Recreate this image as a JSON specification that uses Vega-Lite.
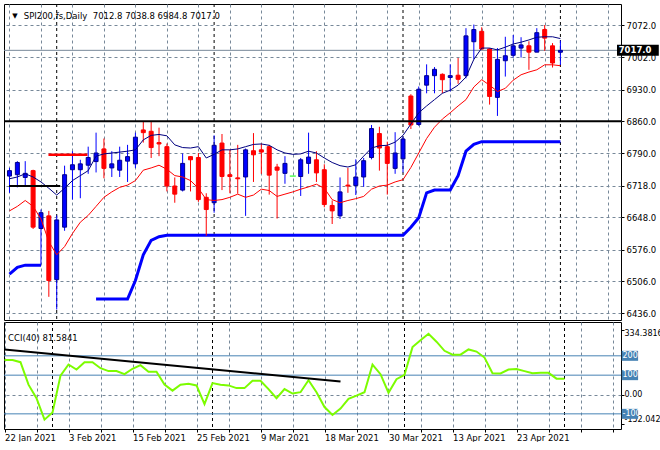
{
  "$schema": "https://vega.github.io/schema/vega-lite/v6.json",
  "background": "white",
  "padding": {"left": 3, "top": 3, "right": 0, "bottom": 0},
  "bounds": "flush",
  "spacing": 2,
  "config": {
    "view": {"stroke": "black", "strokeWidth": 1},
    "axis": {"labelFont": "DejaVu Sans", "labelFontSize": 8.5, "labelColor": "black", "tickColor": "black", "titleFont": "DejaVu Sans", "labelOverlap": false},
    "text": {"font": "DejaVu Sans", "fontSize": 8.5}
  },
  "datasets": {
    "bars": [
      {"i":0,"o":6739,"h":6757,"l":6702,"c":6751,"d":"up","fast":6733,"slow":6662,"cci":178},
      {"i":1,"o":6742,"h":6772,"l":6714,"c":6769,"d":"up","fast":6737,"slow":6672,"cci":178},
      {"i":2,"o":6736,"h":6772,"l":6717,"c":6745,"d":"up","fast":6744,"slow":6685,"cci":167},
      {"i":3,"o":6751,"h":6753,"l":6622,"c":6626,"d":"down","fast":6737,"slow":6672,"cci":51},
      {"i":4,"o":6623,"h":6665,"l":6544,"c":6658,"d":"up","fast":6726,"slow":6644,"cci":-19},
      {"i":5,"o":6651,"h":6662,"l":6472,"c":6508,"d":"down","fast":6712,"slow":6594,"cci":-130},
      {"i":6,"o":6510,"h":6652,"l":6444,"c":6642,"d":"up","fast":6697,"slow":6565,"cci":-93},
      {"i":7,"o":6626,"h":6762,"l":6618,"c":6742,"d":"up","fast":6712,"slow":6583,"cci":98},
      {"i":8,"o":6753,"h":6794,"l":6687,"c":6764,"d":"up","fast":6729,"slow":6612,"cci":155},
      {"i":9,"o":6753,"h":6775,"l":6690,"c":6766,"d":"up","fast":6740,"slow":6637,"cci":129},
      {"i":10,"o":6763,"h":6804,"l":6744,"c":6780,"d":"up","fast":6751,"slow":6652,"cci":167},
      {"i":11,"o":6771,"h":6835,"l":6747,"c":6790,"d":"up","fast":6783,"slow":6672,"cci":167},
      {"i":12,"o":6799,"h":6822,"l":6734,"c":6756,"d":"down","fast":6788,"slow":6692,"cci":136},
      {"i":13,"o":6757,"h":6794,"l":6737,"c":6766,"d":"up","fast":6790,"slow":6704,"cci":121},
      {"i":14,"o":6752,"h":6804,"l":6737,"c":6774,"d":"up","fast":6792,"slow":6714,"cci":121},
      {"i":15,"o":6772,"h":6808,"l":6726,"c":6782,"d":"up","fast":6794,"slow":6719,"cci":105},
      {"i":16,"o":6766,"h":6835,"l":6757,"c":6825,"d":"up","fast":6797,"slow":6729,"cci":133},
      {"i":17,"o":6841,"h":6859,"l":6813,"c":6835,"d":"down","fast":6819,"slow":6752,"cci":152},
      {"i":18,"o":6838,"h":6859,"l":6779,"c":6802,"d":"down","fast":6829,"slow":6757,"cci":118},
      {"i":19,"o":6813,"h":6846,"l":6783,"c":6810,"d":"down","fast":6831,"slow":6763,"cci":118},
      {"i":20,"o":6804,"h":6811,"l":6705,"c":6717,"d":"down","fast":6828,"slow":6754,"cci":51},
      {"i":21,"o":6717,"h":6736,"l":6680,"c":6699,"d":"down","fast":6808,"slow":6740,"cci":20},
      {"i":22,"o":6708,"h":6789,"l":6705,"c":6767,"d":"up","fast":6802,"slow":6737,"cci":51},
      {"i":23,"o":6782,"h":6783,"l":6705,"c":6775,"d":"down","fast":6801,"slow":6729,"cci":56},
      {"i":24,"o":6780,"h":6790,"l":6682,"c":6687,"d":"down","fast":6804,"slow":6712,"cci":47},
      {"i":25,"o":6692,"h":6701,"l":6607,"c":6665,"d":"down","fast":6779,"slow":6687,"cci":-50},
      {"i":26,"o":6680,"h":6829,"l":6658,"c":6807,"d":"up","fast":6787,"slow":6685,"cci":59},
      {"i":27,"o":6812,"h":6832,"l":6708,"c":6738,"d":"down","fast":6797,"slow":6687,"cci":50},
      {"i":28,"o":6742,"h":6797,"l":6701,"c":6738,"d":"down","fast":6797,"slow":6692,"cci":47},
      {"i":29,"o":6735,"h":6808,"l":6700,"c":6733,"d":"down","fast":6799,"slow":6699,"cci":33},
      {"i":30,"o":6737,"h":6800,"l":6651,"c":6797,"d":"up","fast":6804,"slow":6692,"cci":33},
      {"i":31,"o":6795,"h":6834,"l":6726,"c":6786,"d":"down","fast":6809,"slow":6697,"cci":71},
      {"i":32,"o":6797,"h":6811,"l":6744,"c":6792,"d":"down","fast":6810,"slow":6710,"cci":71},
      {"i":33,"o":6804,"h":6808,"l":6698,"c":6741,"d":"down","fast":6807,"slow":6707,"cci":28},
      {"i":34,"o":6759,"h":6766,"l":6645,"c":6752,"d":"down","fast":6797,"slow":6694,"cci":-19},
      {"i":35,"o":6745,"h":6783,"l":6722,"c":6767,"d":"up","fast":6790,"slow":6699,"cci":28},
      {"i":36,"o":6739,"h":6739,"l":6739,"c":6739,"d":"doji","fast":6787,"slow":6704,"cci":5},
      {"i":37,"o":6738,"h":6779,"l":6695,"c":6775,"d":"up","fast":6788,"slow":6710,"cci":12},
      {"i":38,"o":6767,"h":6835,"l":6744,"c":6781,"d":"up","fast":6794,"slow":6715,"cci":74},
      {"i":39,"o":6775,"h":6794,"l":6726,"c":6746,"d":"down","fast":6790,"slow":6721,"cci":12},
      {"i":40,"o":6753,"h":6765,"l":6670,"c":6676,"d":"down","fast":6779,"slow":6712,"cci":-65},
      {"i":41,"o":6674,"h":6685,"l":6633,"c":6662,"d":"down","fast":6769,"slow":6687,"cci":-106},
      {"i":42,"o":6651,"h":6736,"l":6644,"c":6704,"d":"up","fast":6762,"slow":6680,"cci":-73},
      {"i":43,"o":6719,"h":6757,"l":6702,"c":6717,"d":"down","fast":6759,"slow":6685,"cci":-22},
      {"i":44,"o":6718,"h":6776,"l":6697,"c":6737,"d":"up","fast":6764,"slow":6689,"cci":-6},
      {"i":45,"o":6737,"h":6779,"l":6715,"c":6773,"d":"up","fast":6783,"slow":6694,"cci":12},
      {"i":46,"o":6780,"h":6852,"l":6776,"c":6844,"d":"up","fast":6801,"slow":6710,"cci":155},
      {"i":47,"o":6833,"h":6848,"l":6751,"c":6801,"d":"down","fast":6806,"slow":6717,"cci":105},
      {"i":48,"o":6804,"h":6815,"l":6698,"c":6767,"d":"down","fast":6807,"slow":6719,"cci":9},
      {"i":49,"o":6756,"h":6836,"l":6744,"c":6790,"d":"up","fast":6814,"slow":6726,"cci":79},
      {"i":50,"o":6777,"h":6826,"l":6747,"c":6821,"d":"up","fast":6829,"slow":6731,"cci":102},
      {"i":51,"o":6916,"h":6920,"l":6843,"c":6852,"d":"down","fast":6854,"slow":6758,"cci":245},
      {"i":52,"o":6853,"h":6937,"l":6850,"c":6931,"d":"up","fast":6879,"slow":6790,"cci":281},
      {"i":53,"o":6940,"h":6986,"l":6922,"c":6961,"d":"up","fast":6894,"slow":6822,"cci":314},
      {"i":54,"o":6961,"h":6980,"l":6922,"c":6975,"d":"up","fast":6908,"slow":6847,"cci":273},
      {"i":55,"o":6964,"h":6966,"l":6922,"c":6952,"d":"down","fast":6922,"slow":6865,"cci":226},
      {"i":56,"o":6957,"h":6986,"l":6926,"c":6961,"d":"up","fast":6929,"slow":6879,"cci":206},
      {"i":57,"o":6962,"h":7000,"l":6943,"c":6953,"d":"down","fast":6940,"slow":6894,"cci":206},
      {"i":58,"o":6961,"h":7066,"l":6955,"c":7049,"d":"up","fast":6958,"slow":6908,"cci":233},
      {"i":59,"o":7036,"h":7074,"l":6997,"c":7063,"d":"up","fast":6997,"slow":6936,"cci":222},
      {"i":60,"o":7059,"h":7068,"l":7018,"c":7020,"d":"down","fast":7022,"slow":6952,"cci":191},
      {"i":61,"o":7020,"h":7022,"l":6897,"c":6915,"d":"down","fast":7022,"slow":6940,"cci":110},
      {"i":62,"o":6913,"h":7022,"l":6872,"c":6997,"d":"up","fast":7018,"slow":6926,"cci":109},
      {"i":63,"o":6994,"h":7047,"l":6959,"c":7005,"d":"up","fast":7024,"slow":6933,"cci":129},
      {"i":64,"o":7006,"h":7051,"l":7001,"c":7027,"d":"up","fast":7031,"slow":6951,"cci":132},
      {"i":65,"o":7022,"h":7046,"l":7001,"c":7029,"d":"up","fast":7035,"slow":6963,"cci":121},
      {"i":66,"o":7027,"h":7037,"l":6974,"c":7013,"d":"down","fast":7040,"slow":6969,"cci":110},
      {"i":67,"o":7013,"h":7066,"l":7013,"c":7056,"d":"up","fast":7046,"slow":6974,"cci":113},
      {"i":68,"o":7063,"h":7073,"l":7016,"c":7044,"d":"down","fast":7047,"slow":6985,"cci":112},
      {"i":69,"o":7027,"h":7033,"l":6979,"c":6989,"d":"down","fast":7047,"slow":6985,"cci":82},
      {"i":70,"o":7012.8,"h":7038.8,"l":6984.8,"c":7017.0,"d":"up","fast":7043,"slow":6983,"cci":81.5841}
    ],
    "support": [
      {"i":0,"seg":"a","v":6522},{"i":1,"seg":"a","v":6537},{"i":2,"seg":"a","v":6542},{"i":3,"seg":"a","v":6542},{"i":4,"seg":"a","v":6542},
      {"i":11,"seg":"b","v":6467},{"i":12,"seg":"b","v":6467},{"i":13,"seg":"b","v":6467},{"i":14,"seg":"b","v":6467},{"i":15,"seg":"b","v":6467},
      {"i":16,"seg":"b","v":6508},{"i":17,"seg":"b","v":6565},{"i":18,"seg":"b","v":6597},{"i":19,"seg":"b","v":6605},
      {"i":20,"seg":"b","v":6608},{"i":21,"seg":"b","v":6608},{"i":22,"seg":"b","v":6608},{"i":23,"seg":"b","v":6608},{"i":24,"seg":"b","v":6608},
      {"i":25,"seg":"b","v":6608},{"i":26,"seg":"b","v":6608},{"i":27,"seg":"b","v":6608},{"i":28,"seg":"b","v":6608},{"i":29,"seg":"b","v":6608},
      {"i":30,"seg":"b","v":6608},{"i":31,"seg":"b","v":6608},{"i":32,"seg":"b","v":6608},{"i":33,"seg":"b","v":6608},{"i":34,"seg":"b","v":6608},
      {"i":35,"seg":"b","v":6608},{"i":36,"seg":"b","v":6608},{"i":37,"seg":"b","v":6608},{"i":38,"seg":"b","v":6608},{"i":39,"seg":"b","v":6608},
      {"i":40,"seg":"b","v":6608},{"i":41,"seg":"b","v":6608},{"i":42,"seg":"b","v":6608},{"i":43,"seg":"b","v":6608},{"i":44,"seg":"b","v":6608},
      {"i":45,"seg":"b","v":6608},{"i":46,"seg":"b","v":6608},{"i":47,"seg":"b","v":6608},{"i":48,"seg":"b","v":6608},{"i":49,"seg":"b","v":6608},
      {"i":50,"seg":"b","v":6608},{"i":51,"seg":"b","v":6626},{"i":52,"seg":"b","v":6647},{"i":53,"seg":"b","v":6702},{"i":54,"seg":"b","v":6708},
      {"i":55,"seg":"b","v":6708},{"i":56,"seg":"b","v":6708},{"i":57,"seg":"b","v":6740},{"i":58,"seg":"b","v":6794},{"i":59,"seg":"b","v":6809},
      {"i":60,"seg":"b","v":6815},{"i":61,"seg":"b","v":6815},{"i":62,"seg":"b","v":6815},{"i":63,"seg":"b","v":6815},{"i":64,"seg":"b","v":6815},
      {"i":65,"seg":"b","v":6815},{"i":66,"seg":"b","v":6815},{"i":67,"seg":"b","v":6815},{"i":68,"seg":"b","v":6815},{"i":69,"seg":"b","v":6815},
      {"i":70,"seg":"b","v":6815}
    ],
    "levels": [
      {"name":"price","i0":-1,"i1":78,"p":7017.0},
      {"name":"h6860","i0":-1,"i1":78,"p":6860},
      {"name":"blackseg","i0":-0.05,"i1":6.45,"p":6717},
      {"name":"redseg","i0":4.95,"i1":9.9,"p":6786}
    ],
    "seps": [{"i":6},{"i":26},{"i":50},{"i":70}],
    "trend": [{"i":0,"v":233},{"i":42,"v":67}],
    "ccilevels": [{"v":200,"label":"200"},{"v":100,"label":"100"},{"v":-100,"label":"-100"}],
    "tag": [{"p":7017.0,"label":"7017.0"}],
    "head": [{"t":"SPI200,fs,Daily \u00a07012.8 7038.8 6984.8 7017.0"}],
    "ccihead": [{"t":"CCI(40) 81.5841"}]
  },
  "vconcat": [
    {
      "width": 617,
      "height": 316,
      "layer": [
        {
          "data": {"name": "seps"},
          "mark": {"type": "rule", "color": "black", "strokeDash": [3, 3], "strokeWidth": 1},
          "encoding": {
            "x": {"field": "i", "type": "quantitative", "title": null,
              "scale": {"domain": [-0.0625, 77.0625], "nice": false, "zero": false},
              "axis": {"values": [0,4,8,12,16,20,24,28,32,36,40,44,48,52,56,60,64,68,72,76], "tickCount": 40, "labels": false, "ticks": false, "domain": false, "grid": true, "gridColor": "#778899", "gridDash": [3, 3], "title": null}}
          }
        },
        {
          "data": {"name": "levels"},
          "transform": [{"filter": "datum.name == 'price'"}],
          "mark": {"type": "rule", "color": "#778899", "strokeWidth": 1, "clip": true},
          "encoding": {
            "x": {"field": "i0", "type": "quantitative", "title": null},
            "x2": {"field": "i1"},
            "y": {"field": "p", "type": "quantitative", "title": null,
              "scale": {"domain": [6431.8, 7108.4], "nice": false, "zero": false},
              "axis": {"orient": "right", "values": [6436, 6506, 6576, 6648, 6718, 6790, 6860, 6930, 7002, 7072], "tickCount": 20, "format": ".1f", "grid": true, "gridColor": "#778899", "gridDash": [3, 3], "tickSize": 3, "labelPadding": 2, "domain": false, "labelOverlap": false, "title": null}}
          }
        },
        {
          "data": {"name": "support"},
          "mark": {"type": "line", "color": "#0000ff", "strokeWidth": 3, "clip": true},
          "encoding": {
            "x": {"field": "i", "type": "quantitative", "title": null},
            "y": {"field": "v", "type": "quantitative", "title": null},
            "detail": {"field": "seg", "type": "nominal"}
          }
        },
        {
          "data": {"name": "bars"},
          "mark": {"type": "rule", "strokeWidth": 1, "clip": true},
          "encoding": {
            "x": {"field": "i", "type": "quantitative", "title": null},
            "y": {"field": "l", "type": "quantitative", "title": null},
            "y2": {"field": "h"},
            "color": {"field": "d", "type": "nominal", "legend": null,
              "scale": {"domain": ["up", "down", "doji"], "range": ["#0000ff", "#ff0000", "#00ff00"]}}
          }
        },
        {
          "data": {"name": "bars"},
          "transform": [{"filter": "datum.d != 'doji'"}],
          "mark": {"type": "bar", "width": 4, "strokeWidth": 1, "clip": true},
          "encoding": {
            "x": {"field": "i", "type": "quantitative", "title": null},
            "y": {"field": "o", "type": "quantitative", "title": null},
            "y2": {"field": "c"},
            "fill": {"field": "d", "type": "nominal", "legend": null,
              "scale": {"domain": ["up", "down"], "range": ["#0000ff", "#ff0000"]}},
            "stroke": {"field": "d", "type": "nominal", "legend": null,
              "scale": {"domain": ["up", "down"], "range": ["#00008b", "#ff0000"]}}
          }
        },
        {
          "data": {"name": "bars"},
          "transform": [{"filter": "datum.d == 'doji'"}],
          "mark": {"type": "tick", "orient": "horizontal", "color": "#00ff00", "size": 6, "thickness": 1, "opacity": 1, "clip": true},
          "encoding": {
            "x": {"field": "i", "type": "quantitative", "title": null},
            "y": {"field": "o", "type": "quantitative", "title": null}
          }
        },
        {
          "data": {"name": "bars"},
          "mark": {"type": "line", "color": "#ff0000", "strokeWidth": 1, "clip": true},
          "encoding": {
            "x": {"field": "i", "type": "quantitative", "title": null},
            "y": {"field": "slow", "type": "quantitative", "title": null}
          }
        },
        {
          "data": {"name": "bars"},
          "mark": {"type": "line", "color": "#000080", "strokeWidth": 1, "clip": true},
          "encoding": {
            "x": {"field": "i", "type": "quantitative", "title": null},
            "y": {"field": "fast", "type": "quantitative", "title": null}
          }
        },
        {
          "data": {"name": "levels"},
          "transform": [{"filter": "datum.name == 'h6860' || datum.name == 'blackseg'"}],
          "mark": {"type": "rule", "color": "black", "strokeWidth": 2, "clip": true},
          "encoding": {
            "x": {"field": "i0", "type": "quantitative", "title": null},
            "x2": {"field": "i1"},
            "y": {"field": "p", "type": "quantitative", "title": null}
          }
        },
        {
          "data": {"name": "levels"},
          "transform": [{"filter": "datum.name == 'redseg'"}],
          "mark": {"type": "rule", "color": "#ff0000", "strokeWidth": 2.5, "clip": true},
          "encoding": {
            "x": {"field": "i0", "type": "quantitative", "title": null},
            "x2": {"field": "i1"},
            "y": {"field": "p", "type": "quantitative", "title": null}
          }
        },
        {
          "data": {"name": "head"},
          "mark": {"type": "text", "align": "left", "baseline": "middle", "color": "black", "fontSize": 7},
          "encoding": {
            "x": {"datum": 0.35, "type": "quantitative"},
            "y": {"datum": 7093, "type": "quantitative"},
            "text": {"value": "▼"}
          }
        },
        {
          "data": {"name": "head"},
          "mark": {"type": "text", "align": "left", "baseline": "middle", "color": "black"},
          "encoding": {
            "x": {"datum": 1.81, "type": "quantitative"},
            "y": {"datum": 7093, "type": "quantitative"},
            "text": {"field": "t"}
          }
        },
        {
          "data": {"name": "tag"},
          "mark": {"type": "bar", "color": "black", "size": 11},
          "encoding": {
            "x": {"datum": 77.19, "type": "quantitative"},
            "x2": {"datum": 82.5},
            "y": {"field": "p", "type": "quantitative", "title": null}
          }
        },
        {
          "data": {"name": "tag"},
          "mark": {"type": "text", "align": "left", "baseline": "middle", "color": "white", "fontWeight": "bold"},
          "encoding": {
            "x": {"datum": 77.4, "type": "quantitative"},
            "y": {"field": "p", "type": "quantitative", "title": null},
            "text": {"field": "label"}
          }
        }
      ]
    },
    {
      "width": 617,
      "height": 107,
      "layer": [
        {
          "data": {"name": "seps"},
          "mark": {"type": "rule", "color": "black", "strokeDash": [3, 3], "strokeWidth": 1},
          "encoding": {
            "x": {"field": "i", "type": "quantitative", "title": null,
              "scale": {"domain": [-0.0625, 77.0625], "nice": false, "zero": false},
              "axis": {"values": [0,4,8,12,16,20,24,28,32,36,40,44,48,52,56,60,64,68,72,76], "tickCount": 40,
                "labelExpr": "datum.value % 8 == 0 ? ['22 Jan 2021','3 Feb 2021','15 Feb 2021','25 Feb 2021','9 Mar 2021','18 Mar 2021','30 Mar 2021','13 Apr 2021','23 Apr 2021','',''][datum.value / 8] : ''",
                "labelAlign": "left", "labelPadding": 1, "labelOverlap": false, "labelFlush": false, "tickSize": 3, "domain": false,
                "grid": true, "gridColor": "#778899", "gridDash": [3, 3], "title": null}}
          }
        },
        {
          "data": {"name": "ccilevels"},
          "mark": {"type": "rule", "color": "#4682b4", "strokeWidth": 1},
          "encoding": {
            "y": {"field": "v", "type": "quantitative", "title": null,
              "scale": {"domain": [-152.5, 349], "nice": false, "zero": false},
              "axis": {"orient": "right", "values": [334.3816, 0, -152.042], "tickCount": 10,
                "labelExpr": "datum.value == 0 ? '0.00' : (datum.value > 300 ? '334.3816' : '-152.042')",
                "labelBaseline": {"condition": [{"test": "datum.value > 300", "value": "top"}, {"test": "datum.value < -150", "value": "bottom"}], "value": "middle"},
                "gridOpacity": {"condition": {"test": "datum.value != 0", "value": 0}, "value": 1},
                "labelFontSize": 8,
                "grid": true, "gridColor": "#778899", "gridDash": [3, 3], "tickSize": 3, "labelPadding": 0, "domain": false, "labelOverlap": false, "title": null}}
          }
        },
        {
          "data": {"name": "bars"},
          "mark": {"type": "line", "color": "#7cfc00", "strokeWidth": 2, "clip": true},
          "encoding": {
            "x": {"field": "i", "type": "quantitative", "title": null},
            "y": {"field": "cci", "type": "quantitative", "title": null}
          }
        },
        {
          "data": {"name": "trend"},
          "mark": {"type": "line", "color": "black", "strokeWidth": 2, "clip": true},
          "encoding": {
            "x": {"field": "i", "type": "quantitative", "title": null},
            "y": {"field": "v", "type": "quantitative", "title": null}
          }
        },
        {
          "data": {"name": "ccilevels"},
          "mark": {"type": "bar", "color": "#4682b4", "size": 10},
          "encoding": {
            "x": {"datum": 77.15, "type": "quantitative"},
            "x2": {"datum": 79.2},
            "y": {"field": "v", "type": "quantitative", "title": null}
          }
        },
        {
          "data": {"name": "ccilevels"},
          "mark": {"type": "text", "align": "left", "baseline": "middle", "color": "white", "fontSize": 8},
          "encoding": {
            "x": {"datum": 77.25, "type": "quantitative"},
            "y": {"field": "v", "type": "quantitative", "title": null},
            "text": {"field": "label"}
          }
        },
        {
          "data": {"name": "ccihead"},
          "mark": {"type": "text", "align": "left", "baseline": "middle", "color": "black"},
          "encoding": {
            "x": {"datum": 0.44, "type": "quantitative"},
            "y": {"datum": 293, "type": "quantitative"},
            "text": {"field": "t"}
          }
        }
      ]
    }
  ]
}
